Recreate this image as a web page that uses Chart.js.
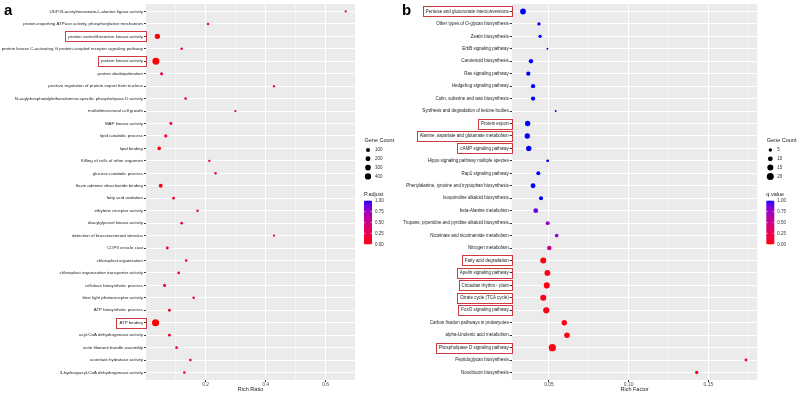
<!DOCTYPE html>
<html>
<head>
<meta charset="utf-8">
<script src="https://cdn.jsdelivr.net/npm/chart.js@4/dist/chart.umd.min.js"></script>
<style>
body { margin: 0; background: #fff; }
#wrap { position: relative; width: 798px; height: 395px; }
canvas { position: absolute; top: 0; }
#goChart { left: 0; }
#keggChart { left: 399px; }
</style>
</head>
<body>
<div id="wrap">
<canvas id="goChart" width="399" height="395"></canvas>
<canvas id="keggChart" width="399" height="395"></canvas>
</div>
<script>
// panel a: GO terms
const goTerms = [
  "UDP-N-acetylmuramate-L-alanine ligase activity",
  "proton-exporting ATPase activity, phosphorylative mechanism",
  "protein serine/threonine kinase activity",
  "protein kinase C-activating G protein-coupled receptor signaling pathway",
  "protein kinase activity",
  "protein deubiquitination",
  "positive regulation of protein export from nucleus",
  "N-acylphosphatidylethanolamine-specific phospholipase D activity",
  "multidimensional cell growth",
  "MAP kinase activity",
  "lipid catabolic process",
  "lipid binding",
  "Killing of cells of other organism",
  "glucose catabolic process",
  "flavin adenine dinucleotide binding",
  "fatty acid oxidation",
  "ethylene receptor activity",
  "diacylglycerol kinase activity",
  "detection of brassinosteroid stimulus",
  "COPII vesicle coat",
  "chloroplast organization",
  "chloroplast organization transporter activity",
  "cellulose biosynthetic process",
  "blue light photoreceptor activity",
  "ATP biosynthetic process",
  "ATP binding",
  "acyl-CoA dehydrogenase activity",
  "actin filament bundle assembly",
  "aconitate hydratase activity",
  "3-hydroxyacyl-CoA dehydrogenase activity"
];
const goRatio = [0.667, 0.208, 0.039, 0.120, 0.034, 0.053, 0.428, 0.133, 0.299, 0.084,
  0.067, 0.045, 0.212, 0.233, 0.050, 0.093, 0.173, 0.120, 0.428, 0.072,
  0.135, 0.110, 0.063, 0.160, 0.079, 0.033, 0.079, 0.103, 0.149, 0.129];
const goCount = [6, 12, 245, 15, 530, 40, 8, 15, 7, 30,
  45, 70, 10, 10, 90, 22, 12, 20, 6, 28,
  18, 20, 35, 15, 25, 560, 25, 20, 15, 18];
const goPadj = [0.25, 0.1, 0.0, 0.1, 0.0, 0.2, 0.12, 0.1, 0.18, 0.1,
  0.08, 0.03, 0.12, 0.12, 0.02, 0.12, 0.12, 0.12, 0.15, 0.1,
  0.12, 0.12, 0.1, 0.12, 0.1, 0.0, 0.1, 0.12, 0.12, 0.12];
const goBoxed = ["protein serine/threonine kinase activity", "protein kinase activity", "ATP binding"];
const goSizeBreaks = [100, 200, 300, 400];

// panel b: KEGG pathways
const keggTerms = [
  "Pentose and glucuronate interconversions",
  "Other types of O-glycan biosynthesis",
  "Zeatin biosynthesis",
  "ErbB signaling pathway",
  "Carotenoid biosynthesis",
  "Ras signaling pathway",
  "Hedgehog signaling pathway",
  "Cutin, suberine and wax biosynthesis",
  "Synthesis and degradation of ketone bodies",
  "Protein export",
  "Alanine, aspartate and glutamate metabolism",
  "cAMP signaling pathway",
  "Hippo signaling pathway multiple species",
  "Rap1 signaling pathway",
  "Phenylalanine, tyrosine and tryptophan biosynthesis",
  "Isoquinoline alkaloid biosynthesis",
  "beta-Alanine metabolism",
  "Tropane, piperidine and pyridine alkaloid biosynthesis",
  "Nicotinate and nicotinamide metabolism",
  "Nitrogen metabolism",
  "Fatty acid degradation",
  "Apelin signaling pathway",
  "Circadian rhythm - plant",
  "Citrate cycle (TCA cycle)",
  "FoxO signaling pathway",
  "Carbon fixation pathways in prokaryotes",
  "alpha-Linolenic acid metabolism",
  "Phospholipase D signaling pathway",
  "Peptidoglycan biosynthesis",
  "Novobiocin biosynthesis"
];
const keggFactor = [0.0337, 0.0437, 0.0444, 0.0490, 0.0387, 0.0370, 0.0400, 0.0400, 0.0542, 0.0366,
  0.0364, 0.0373, 0.0492, 0.0433, 0.0400, 0.0450, 0.0417, 0.0492, 0.0548, 0.0502,
  0.0464, 0.0490, 0.0486, 0.0464, 0.0483, 0.0596, 0.0613, 0.0521, 0.1736, 0.1427];
const keggCount = [14, 5, 5, 2, 8, 8, 8, 8, 2, 12,
  12, 12, 4, 7, 10, 7, 10, 7, 6, 9,
  15, 14, 15, 15, 16, 12, 13, 21, 4, 5];
const keggQ = [1, 1, 1, 1, 1, 1, 1, 1, 1, 1,
  1, 1, 1, 1, 1, 1, 0.88, 0.75, 0.8, 0.5,
  0.03, 0.03, 0.03, 0.03, 0.03, 0.03, 0.03, 0.03, 0.08, 0.08];
const keggBoxed = ["Pentose and glucuronate interconversions", "Protein export",
  "Alanine, aspartate and glutamate metabolism", "cAMP signaling pathway",
  "Fatty acid degradation", "Apelin signaling pathway", "Circadian rhythm - plant",
  "Citrate cycle (TCA cycle)", "FoxO signaling pathway", "Phospholipase D signaling pathway"];
const keggSizeBreaks = [5, 10, 15, 20];

const colorBreaks = [1.00, 0.75, 0.50, 0.25, 0.00];

const FONT = "'Liberation Sans', Arial, sans-serif";

// red -> blue gradient interpolated in Lab, like ggplot's scale_colour_gradient
const toLin = c => { c /= 255; return c <= 0.04045 ? c / 12.92 : Math.pow((c + 0.055) / 1.055, 2.4); };
const toByte = c => {
  c = c <= 0.0031308 ? 12.92 * c : 1.055 * Math.pow(c, 1 / 2.4) - 0.055;
  return Math.round(Math.min(1, Math.max(0, c)) * 255);
};
const rgbToLab = rgb => {
  const [r, g, b] = rgb.map(toLin);
  const x = (0.4124 * r + 0.3576 * g + 0.1805 * b) / 0.95047;
  const y = 0.2126 * r + 0.7152 * g + 0.0722 * b;
  const z = (0.0193 * r + 0.1192 * g + 0.9505 * b) / 1.08883;
  const f = t => t > 0.008856 ? Math.cbrt(t) : 7.787 * t + 16 / 116;
  return [116 * f(y) - 16, 500 * (f(x) - f(y)), 200 * (f(y) - f(z))];
};
const labToRgb = ([L, a, bb]) => {
  const fy = (L + 16) / 116, fx = a / 500 + fy, fz = fy - bb / 200;
  const inv = t => t * t * t > 0.008856 ? t * t * t : (t - 16 / 116) / 7.787;
  const x = 0.95047 * inv(fx), y = inv(fy), z = 1.08883 * inv(fz);
  return [
    toByte(3.2406 * x - 1.5372 * y - 0.4986 * z),
    toByte(-0.9689 * x + 1.8758 * y + 0.0415 * z),
    toByte(0.0557 * x - 0.2040 * y + 1.0570 * z)
  ];
};
const LOW = rgbToLab([255, 0, 0]);
const HIGH = rgbToLab([0, 0, 255]);
const gradColor = t => {
  const [r, g, b] = labToRgb(LOW.map((v, i) => v + (HIGH[i] - v) * t));
  return `rgb(${r},${g},${b})`;
};

const goRadius = c => 0.85 + 0.115 * Math.sqrt(c);
const keggRadius = c => Math.max(0.9, -0.2 + 0.83 * Math.sqrt(c));

const makeChart = (id, cfg) => {
  const ctx = document.getElementById(id).getContext("2d");
  const tickFont = { family: FONT, size: cfg.labelSize };

  const decor = {
    id: "decor",
    beforeDraw: chart => {
      const { ctx, chartArea: ca } = chart;
      ctx.save();
      ctx.fillStyle = "#ebebeb";
      ctx.fillRect(ca.left, ca.top, ca.right - ca.left, ca.bottom - ca.top);
      ctx.restore();
    },
    afterDraw: chart => {
      const { ctx, chartArea: ca } = chart;
      const ys = chart.scales.y;
      ctx.save();
      // red boxes round highlighted terms
      ctx.font = `${tickFont.size}px ${FONT}`;
      ctx.strokeStyle = "#cc3b3f";
      ctx.lineWidth = 1;
      cfg.boxed.forEach(name => {
        const i = cfg.terms.indexOf(name);
        const y = ys.getPixelForValue(i);
        const textRight = ca.left - 3;
        const w = ctx.measureText(name).width;
        const x0 = Math.round(textRight - w - 3) + 0.5;
        const x1 = Math.round(ca.left) + 0.5;
        ctx.strokeRect(x0, Math.round(y - 5) + 0.5, x1 - x0, 10);
      });

      // panel letter
      ctx.fillStyle = "#000";
      ctx.font = `bold 15px ${FONT}`;
      ctx.textAlign = "left";
      ctx.textBaseline = "alphabetic";
      ctx.fillText(cfg.letter, cfg.letterX, 15);

      // size legend
      const lx = ca.right + 9.5;
      ctx.textBaseline = "middle";
      ctx.fillStyle = "#222";
      ctx.font = `5.5px ${FONT}`;
      ctx.fillText("Gene Count", lx, 140.5);
      ctx.font = `4.5px ${FONT}`;
      cfg.sizeBreaks.forEach((v, k) => {
        const cy = 150 + k * 8.8;
        ctx.beginPath();
        ctx.arc(lx + 3.5, cy, cfg.radius(v), 0, Math.PI * 2);
        ctx.fillStyle = "#000";
        ctx.fill();
        ctx.fillStyle = "#333";
        ctx.fillText(String(v), lx + 10.5, cy);
      });

      // colour bar legend
      ctx.fillStyle = "#222";
      ctx.font = `5.5px ${FONT}`;
      ctx.fillText(cfg.colorTitle, lx - 0.5, 194);
      const top = 200.7, h = 43.6, bx = lx - 0.5, bw = 8;
      const grad = ctx.createLinearGradient(0, top, 0, top + h);
      for (let k = 0; k <= 20; k++) grad.addColorStop(k / 20, gradColor(1 - k / 20));
      ctx.fillStyle = grad;
      ctx.fillRect(bx, top, bw, h);
      ctx.font = `4.5px ${FONT}`;
      ctx.strokeStyle = "#fff";
      ctx.lineWidth = 0.5;
      colorBreaks.forEach(v => {
        const y = top + (1 - v) * h;
        ctx.beginPath();
        ctx.moveTo(bx, y); ctx.lineTo(bx + 1.6, y);
        ctx.moveTo(bx + bw - 1.6, y); ctx.lineTo(bx + bw, y);
        ctx.stroke();
        ctx.fillStyle = "#333";
        ctx.fillText(v.toFixed(2), lx + 10.5, y);
      });
      ctx.restore();
    }
  };

  return new Chart(ctx, {
    type: "bubble",
    data: {
      datasets: [{
        data: cfg.terms.map((t, i) => ({ x: cfg.xs[i], y: i, r: cfg.radius(cfg.counts[i]) })),
        backgroundColor: cfg.colorVals.map(gradColor),
        borderWidth: 0,
        hoverBorderWidth: 0
      }]
    },
    options: {
      responsive: false,
      devicePixelRatio: 1,
      animation: false,
      layout: { padding: { top: 2.5, right: cfg.padRight, bottom: 0, left: 0 } },
      plugins: { legend: { display: false }, tooltip: { enabled: false } },
      scales: {
        x: {
          type: "linear",
          min: cfg.xMin,
          max: cfg.xMax,
          afterFit: s => { s.height = 15; },
          border: { display: false },
          grid: {
            color: "#fff",
            lineWidth: c => cfg.isMajor(c.tick.value) ? 1 : 0.5,
            tickColor: c => cfg.isMajor(c.tick.value) ? "#333" : "rgba(0,0,0,0)",
            tickLength: 2
          },
          ticks: {
            stepSize: cfg.step,
            includeBounds: false,
            autoSkip: false,
            maxRotation: 0,
            padding: 0,
            color: "#4d4d4d",
            font: { family: FONT, size: 5 },
            callback: v => cfg.isMajor(v) ? v.toFixed(cfg.digits) : ""
          },
          title: {
            display: true,
            text: cfg.xTitle,
            color: "#222",
            font: { family: FONT, size: 5.5 },
            padding: { top: 0, bottom: 2 }
          }
        },
        y: {
          type: "linear",
          reverse: true,
          min: -0.6,
          max: cfg.terms.length - 0.4,
          afterFit: s => { s.width = cfg.yWidth; },
          border: { display: false },
          grid: { color: "#fff", lineWidth: 1, tickColor: "#333", tickLength: 2 },
          ticks: {
            stepSize: 1,
            includeBounds: false,
            autoSkip: false,
            padding: 1,
            color: "#222",
            font: tickFont,
            callback: v => Number.isInteger(v) ? cfg.terms[v] : ""
          }
        }
      }
    },
    plugins: [decor]
  });
};

makeChart("goChart", {
  terms: goTerms, xs: goRatio, counts: goCount, colorVals: goPadj, boxed: goBoxed,
  radius: goRadius, sizeBreaks: goSizeBreaks, colorTitle: "P.adjust", labelSize: 4.4,
  xMin: 0.001, xMax: 0.698, step: 0.1, digits: 1,
  isMajor: v => Math.round(v * 10) % 2 === 0,
  xTitle: "Rich Ratio", letter: "a", letterX: 4, yWidth: 146, padRight: 44
});

makeChart("keggChart", {
  terms: keggTerms, xs: keggFactor, counts: keggCount, colorVals: keggQ, boxed: keggBoxed,
  radius: keggRadius, sizeBreaks: keggSizeBreaks, colorTitle: "q.value", labelSize: 4.45,
  xMin: 0.0266, xMax: 0.1807, step: 0.025, digits: 2,
  isMajor: v => Math.round(v * 1000) % 50 === 0,
  xTitle: "Rich Factor", letter: "b", letterX: 3, yWidth: 112.7, padRight: 40.7
});
</script>
</body>
</html>
